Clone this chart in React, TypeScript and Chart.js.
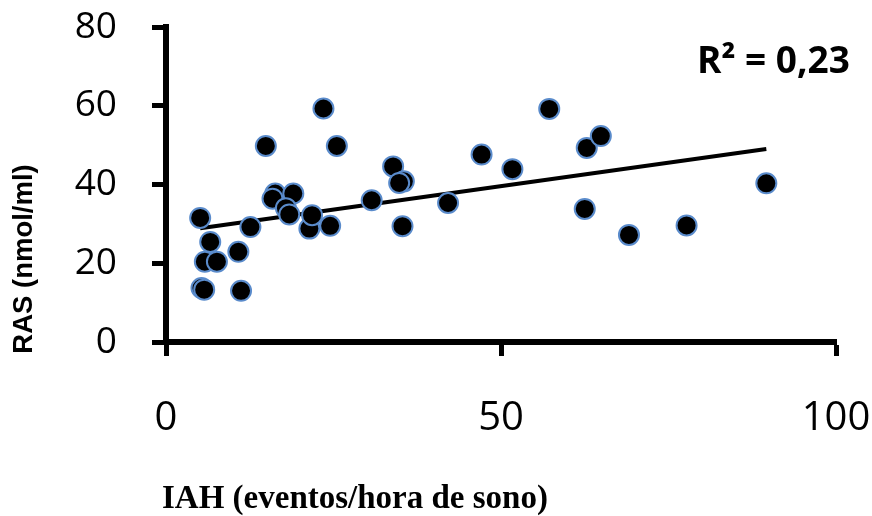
import React, { useEffect, useRef } from "react";
import { Chart, registerables } from "chart.js";

Chart.register(...registerables);

// Apnea–hypopnea index (events per hour of sleep) for each subject
const iahValues = [
  5.1, 6.6, 5.8, 7.6, 5.3, 5.7, 10.8, 11.2, 12.6, 14.9, 16.3, 15.9, 19.0, 17.9,
  18.4, 21.4, 21.8, 24.5, 23.5, 25.5, 30.7, 33.9, 35.5, 34.8, 35.3, 42.1, 47.1,
  51.7, 57.2, 62.8, 64.9, 62.5, 69.1, 77.7, 89.6,
];

// RAS (nmol/ml) measured for the same subjects
const rasValues = [
  31.5, 25.4, 20.4, 20.4, 13.7, 13.3, 22.9, 13.0, 29.2, 49.8, 37.7, 36.4, 37.7,
  34.0, 32.4, 28.8, 32.2, 29.5, 59.3, 49.8, 36.0, 44.6, 40.8, 40.4, 29.4, 35.3,
  47.6, 43.9, 59.2, 49.3, 52.3, 33.8, 27.2, 29.6, 40.3,
];

const xTickValues = [0, 50, 100];
const yTickValues = [0, 20, 40, 60, 80];

const xTitle = "IAH (eventos/hora de sono)";
const yTitle = "RAS (nmol/ml)";
const r2Label = "R² = 0,23";

// Least-squares fit of RAS on IAH, drawn across the observed IAH range
function linearFit(xs: number[], ys: number[]) {
  const n = xs.length;
  const mx = xs.reduce((a, b) => a + b, 0) / n;
  const my = ys.reduce((a, b) => a + b, 0) / n;
  let sxy = 0;
  let sxx = 0;
  for (let i = 0; i < n; i++) {
    sxy += (xs[i] - mx) * (ys[i] - my);
    sxx += (xs[i] - mx) * (xs[i] - mx);
  }
  const slope = sxy / sxx;
  return { slope, intercept: my - slope * mx };
}

const textPlugin = {
  id: "axisTexts",
  afterDraw(chart: Chart) {
    const ctx = chart.ctx;
    ctx.save();
    ctx.fillStyle = "#000";

    // regression coefficient
    ctx.font = "bold 37px 'Open Sans'";
    ctx.textAlign = "left";
    ctx.textBaseline = "alphabetic";
    ctx.fillText(r2Label, 697, 73);

    // horizontal axis title
    ctx.font = "bold 33px 'Liberation Serif'";
    ctx.fillText(xTitle, 162, 508);

    // vertical axis title
    ctx.translate(32, 259);
    ctx.rotate(-Math.PI / 2);
    ctx.font = "bold 27.5px 'Liberation Sans'";
    ctx.textAlign = "center";
    ctx.fillText(yTitle, 0, 0);
    ctx.restore();
  },
};

// keep the plot area fixed: no extra room reserved for edge labels
function clearPadding(scale: any) {
  scale.paddingTop = 0;
  scale.paddingBottom = 0;
  scale.paddingLeft = 0;
  scale.paddingRight = 0;
}

export default function App() {
  const canvasRef = useRef<HTMLCanvasElement | null>(null);

  useEffect(() => {
    const canvas = canvasRef.current;
    if (!canvas) return;

    const points = iahValues.map((x, i) => ({ x, y: rasValues[i] }));
    const fit = linearFit(iahValues, rasValues);
    const xMin = Math.min(...iahValues);
    const xMax = Math.max(...iahValues);
    const trend = [
      { x: xMin, y: fit.intercept + fit.slope * xMin },
      { x: xMax, y: fit.intercept + fit.slope * xMax },
    ];

    const chart = new Chart(canvas, {
      type: "scatter",
      data: {
        datasets: [
          {
            label: "RAS",
            data: points,
            backgroundColor: "#000000",
            borderColor: "#5a8bcb",
            borderWidth: 2,
            pointRadius: 10,
            pointHoverRadius: 10,
            order: 0,
          },
          {
            type: "line",
            label: "Linear",
            data: trend,
            borderColor: "#000000",
            borderWidth: 4,
            pointRadius: 0,
            fill: false,
            order: 1,
          },
        ],
      },
      options: {
        responsive: false,
        animation: false,
        layout: { padding: { top: 27, right: 36, left: 0, bottom: 0 } },
        plugins: {
          legend: { display: false },
          tooltip: { enabled: false },
          title: { display: false },
        },
        scales: {
          x: {
            type: "linear",
            min: 0,
            max: 100,
            afterBuildTicks: (scale: any) => {
              scale.ticks = xTickValues.map((v) => ({ value: v }));
            },
            afterFit: (scale: any) => {
              scale.height = 174;
              clearPadding(scale);
            },
            grid: {
              drawOnChartArea: false,
              drawTicks: true,
              tickLength: 14,
              tickWidth: 5,
              tickColor: "#000",
            },
            border: { display: true, color: "#000", width: 6 },
            ticks: {
              color: "#000",
              font: { family: "'Open Sans'", size: 40 },
              padding: 39,
              maxRotation: 0,
            },
          },
          y: {
            type: "linear",
            min: 0,
            max: 80,
            afterBuildTicks: (scale: any) => {
              scale.ticks = yTickValues.map((v) => ({ value: v }));
            },
            afterFit: (scale: any) => {
              scale.width = 166;
              clearPadding(scale);
            },
            grid: {
              drawOnChartArea: false,
              drawTicks: true,
              tickLength: 14,
              tickWidth: 5,
              tickColor: "#000",
            },
            border: { display: true, color: "#000", width: 6 },
            ticks: {
              color: "#000",
              font: { family: "'Open Sans'", size: 37 },
              padding: 35,
            },
          },
        },
      },
      plugins: [textPlugin],
    });

    return () => chart.destroy();
  }, []);

  return (
    <div style={{ position: "absolute", left: 0, top: 0, width: 872, height: 516, background: "#fff" }}>
      <canvas ref={canvasRef} width={872} height={516} style={{ display: "block" }} />
    </div>
  );
}
